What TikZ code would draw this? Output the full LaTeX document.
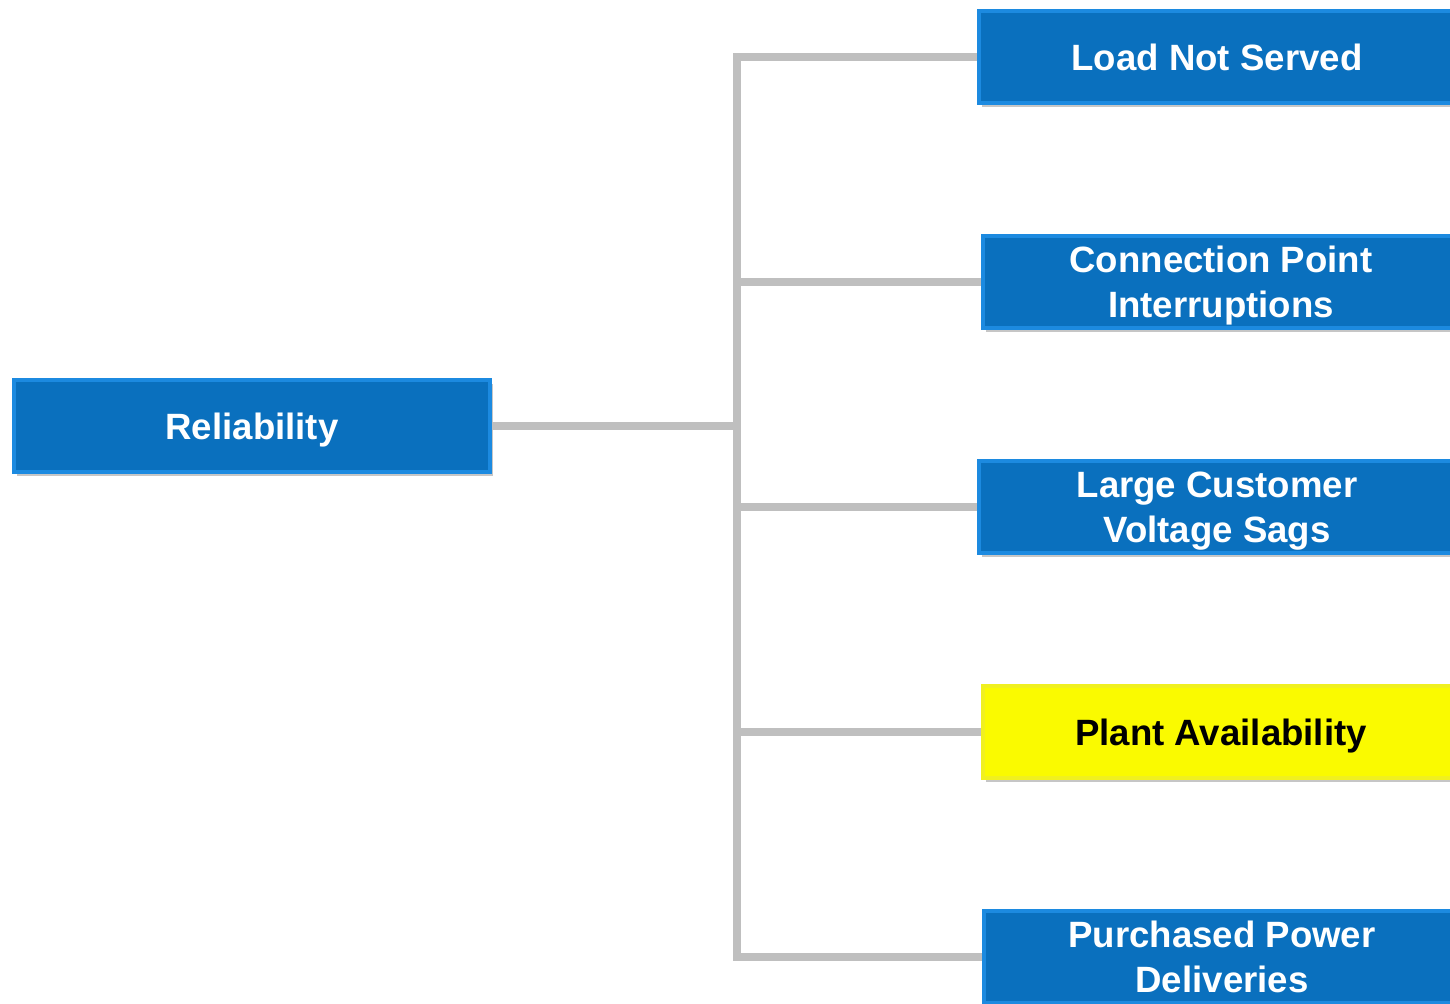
\documentclass[tikz,border=0pt]{standalone}
\usepackage{fontspec}
\setmainfont{Liberation Sans}
\usetikzlibrary{shadows,positioning}
\definecolor{boxblue}{HTML}{0A70BE}
\definecolor{boxlight}{HTML}{1C8AE0}
\definecolor{plantyellow}{HTML}{FAFA00}
\definecolor{plantlight}{HTML}{F0F020}
\definecolor{linkgray}{HTML}{BFBFBF}
\begin{document}
\begin{tikzpicture}[x=0.5pt,y=-0.5pt,
  tbox/.style={rectangle,fill=boxblue,draw=boxlight,line width=2pt,minimum width=238pt,minimum height=46pt,
    text=white,align=center,font=\fontsize{18.3}{22.5}\selectfont\bfseries,text depth=-1.2pt,
    drop shadow={shadow xshift=1.5pt,shadow yshift=-2pt,opacity=0.45}},
  ybox/.style={tbox,fill=plantyellow,draw=plantlight,text=black},
  link/.style={draw=linkgray,line width=4pt}]
\useasboundingbox (0,0) rectangle (1450,1003);
\clip (0,0) rectangle (1450,1003);

\node[tbox] at (252,426) (rel) {Reliability};
\node[tbox] at (1217,57) (lns) {Load Not Served};
\node[tbox] at (1221,282) (cpi) {Connection Point\\Interruptions};
\node[tbox] at (1217,507) (lcv) {Large Customer\\Voltage Sags};
\node[ybox] at (1221,732) (pla) {Plant Availability};
\node[tbox] at (1222,957) (ppd) {Purchased Power\\Deliveries};

\coordinate (trunk) at (737,426);

\begin{scope}[on background layer/.try]
\draw[link] (rel.east) -- (trunk);
\draw[link] (trunk) |- (lns.west);
\draw[link] (trunk) |- (cpi.west);
\draw[link] (trunk) |- (lcv.west);
\draw[link] (trunk) |- (pla.west);
\draw[link] (trunk) |- (ppd.west);
\end{scope}
\end{tikzpicture}
\end{document}
